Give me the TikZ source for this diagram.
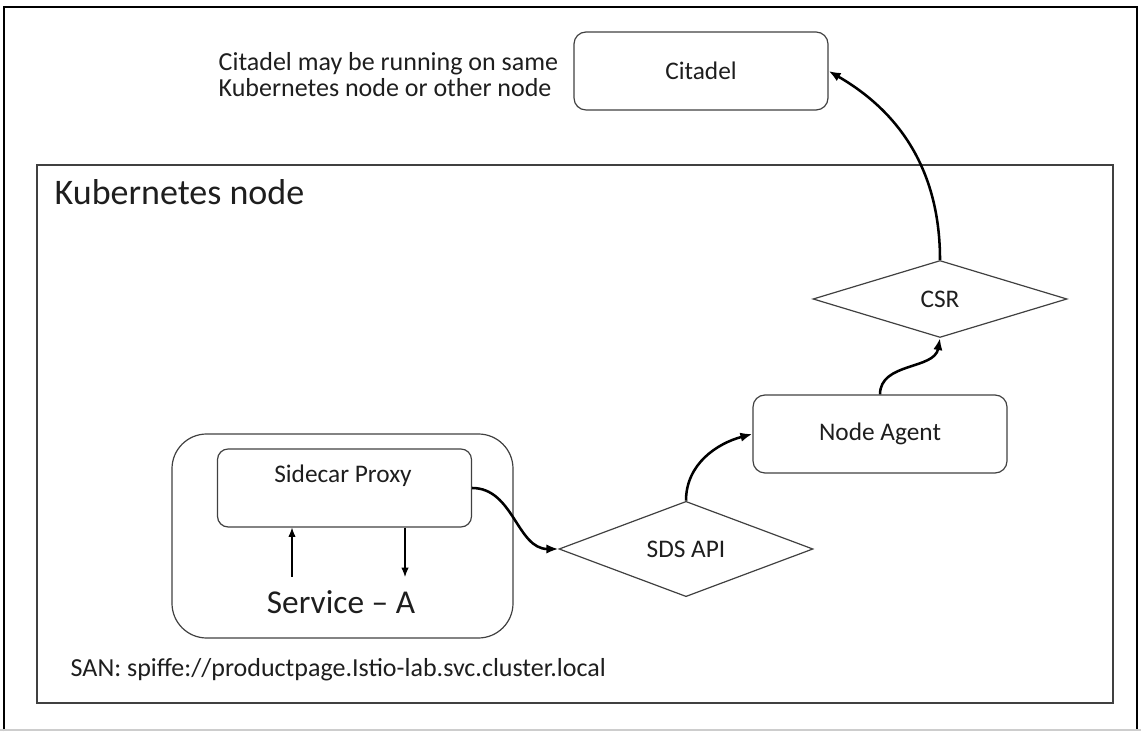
\documentclass[tikz,border=0pt]{standalone}
\usepackage{fontspec}
\setmainfont{Carlito}
\usepackage{tikz}
\usetikzlibrary{arrows,arrows.meta,shapes,positioning}
\usepackage{xcolor}
\definecolor{istiogray}{RGB}{64,64,64}
\definecolor{istiotext}{RGB}{30,30,30}
\definecolor{istiolight}{RGB}{205,205,205}
\tikzstyle{arrow} = [line width=1.9pt,-{Latex[length=9pt,width=7pt]},color=black]
\tikzstyle{thinarrow} = [line width=0.8pt,-{Latex[length=7pt,width=5.5pt]},color=black]
\tikzstyle{roundbox} = [rectangle, rounded corners=9pt, minimum width=190.5pt, minimum height=58.5pt, text centered, draw=istiogray, line width=0.9pt, text=istiotext, font=\fontsize{19}{22}\selectfont]
\tikzstyle{decision} = [diamond, minimum width=190.5pt, minimum height=57.75pt, inner sep=0pt, draw=istiogray, line width=0.9pt, text=istiotext, font=\fontsize{19}{22}\selectfont]

\begin{document}
\begin{tikzpicture}[x=0.75pt, y=0.75pt]
    \useasboundingbox (0,0) rectangle (1141,731);

    % Outer frame
    \draw[line width=2.2pt] (4,0) -- (4,724) -- (1137,724) -- (1137,0);
    \draw[istiolight, line width=0.8pt] (0,1) -- (1141,1);

    % Kubernetes node
    \node[rectangle, draw=istiogray, line width=1pt, minimum width=807pt, minimum height=403.5pt] (k8s) at (575,297) {};
    \node[anchor=base west, text=istiotext, font=\fontsize{27}{32}\selectfont] (k8slabel) at (50,526) {Kubernetes node};

    % Citadel
    \node[roundbox] (citadel) at (701,660) {Citadel};
    \node[anchor=west, align=left, text=istiotext, font=\fontsize{19.5}{19.5}\selectfont] (note) at (214,656) {Citadel may be running on same\\Kubernetes node or other node};

    % Node agent and requests
    \node[decision] (csr) at (940,432) {CSR};
    \node[roundbox] (agent) at (880,297) {Node Agent};
    \node[decision] (sds) at (686,182) {SDS API};

    % Pod
    \node[rectangle, rounded corners=26pt, draw=istiogray, line width=0.9pt, minimum width=255.75pt, minimum height=153pt] (pod) at (342.5,195) {};
    \node[roundbox, rounded corners=8pt] (sidecar) at (344.5,243) {};
    \node[text=istiotext, font=\fontsize{19}{22}\selectfont] (sidecarlabel) at (343,255) {Sidecar Proxy};
    \node[text=istiotext, font=\fontsize{25}{30}\selectfont] (service) at (341,129) {Service -- A};
    \coordinate (svcup) at (292,154);
    \coordinate (svcdown) at (405,154);

    % SAN
    \node[anchor=base west, text=istiotext, font=\fontsize{19.5}{23}\selectfont] (san) at (66,54) {SAN: spiffe://productpage.Istio-lab.svc.cluster.local};

    % Connections
    \draw[thinarrow] (svcup) -- (svcup |- sidecar.south);
    \draw[thinarrow] (sidecar.south -| svcdown) -- (svcdown);
    \draw[arrow] (sidecar.east) to[out=0, in=180] (sds.west);
    \draw[arrow] (sds.north) to[out=90, in=195] (agent.west);
    \draw[arrow] (agent.north) to[out=90, in=-100] (csr.south);
    \draw[arrow] (csr.north) to[out=90, in=-30] (citadel.east);
\end{tikzpicture}
\end{document}
